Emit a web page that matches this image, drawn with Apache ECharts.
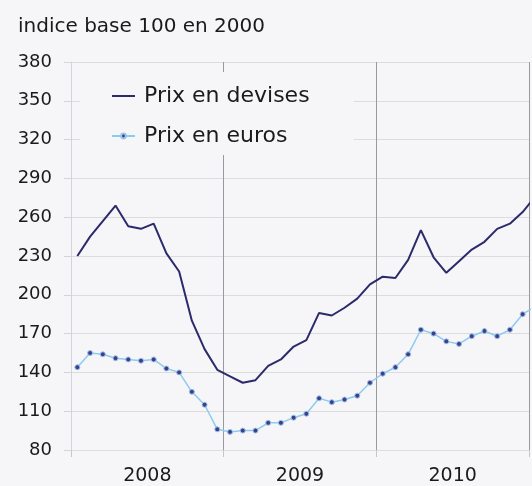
<!DOCTYPE html>
<html>
<head>
<meta charset="utf-8">
<script src="https://cdn.jsdelivr.net/npm/echarts@6/dist/echarts.min.js"></script>
<style>
  html, body { margin: 0; padding: 0; background: #f6f6f8; }
  #chart { width: 532px; height: 486px; }
</style>
</head>
<body>
<div id="chart"></div>
<script>
// monthly values, Jan 2008 -> Jan 2011 (last month is cut by the frame)
const years = ['2008', '2009', '2010']
const prixDevises = [230, 245, 257, 269, 253, 251, 255, 232, 218, 180, 158, 142,
  137, 132, 134, 145, 150, 160, 165, 186, 184, 190, 197, 208,
  214, 213, 227, 250, 229, 217, 226, 235, 241, 251, 255, 264, 276]
const prixEuros = [144, 155, 154, 151, 150, 149, 150, 143, 140, 125, 115, 96,
  94, 95, 95, 101, 101, 105, 108, 120, 117, 119, 122, 132,
  139, 144, 154, 173, 170, 164, 162, 168, 172, 168, 173, 185, 191]
const yTicks = [80, 110, 140, 170, 200, 230, 260, 290, 320, 350, 380]

const font = 'DejaVu Sans'
// month i sits in the middle of its slot
const toPoints = arr => arr.map((v, i) => [i + 0.5, v])

const myChart = echarts.init(document.getElementById('chart'))

const option = {
  backgroundColor: '#f6f6f8',
  animation: false,
  title: {
    text: 'indice base 100 en 2000',
    left: 13,
    top: 12,
    textStyle: { fontFamily: font, fontSize: 20, fontWeight: 'normal', color: '#1a1a1a' }
  },
  legend: {
    orient: 'vertical',
    left: 80,
    top: 72,
    padding: [11, 44, 6, 31],
    backgroundColor: '#f6f6f8',
    itemWidth: 23,
    itemHeight: 6,
    itemGap: 14,
    textStyle: { fontFamily: font, fontSize: 22, lineHeight: 26, color: '#1a1a1a', padding: [0, 0, 0, 4] },
    data: [
      { name: 'Prix en devises', itemStyle: { opacity: 0 } },
      'Prix en euros'
    ]
  },
  grid: {
    left: 71,
    right: 1,
    top: 62,
    bottom: 36
  },
  xAxis: [
    {
      type: 'value',
      min: 0,
      max: 36,
      interval: 6,
      axisLine: { show: false },
      axisTick: { show: false },
      splitLine: { show: false },
      axisLabel: {
        margin: 17,
        fontFamily: font,
        fontSize: 19,
        color: '#1a1a1a',
        formatter: v => (v % 12 === 6 ? years[(v - 6) / 12] : '')
      }
    },
    {
      type: 'value',
      position: 'bottom',
      min: 0,
      max: 36,
      interval: 12,
      axisLine: { show: false },
      axisTick: { show: true, length: 7, lineStyle: { color: '#c8c8cc' } },
      axisLabel: { show: false },
      splitLine: { show: true, lineStyle: { color: '#9a9a9e', width: 1 } }
    }
  ],
  yAxis: {
    type: 'value',
    min: yTicks[0],
    max: yTicks[yTicks.length - 1],
    interval: 30,
    axisLine: { show: true, lineStyle: { color: '#d4d4da' } },
    axisTick: { show: true, length: 7, lineStyle: { color: '#d4d4da' } },
    splitLine: { lineStyle: { color: '#dcdcdf' } },
    axisLabel: { margin: 19, fontFamily: font, fontSize: 18, color: '#1a1a1a' }
  },
  series: [
    {
      name: 'Prix en devises',
      type: 'line',
      xAxisIndex: 0,
      symbol: 'none',
      color: '#2b2a6b',
      lineStyle: { width: 2, color: '#2b2a6b' },
      data: toPoints(prixDevises)
    },
    {
      name: 'Prix en euros',
      type: 'line',
      xAxisIndex: 0,
      symbol: 'circle',
      symbolSize: 5,
      color: '#8ccbf0',
      lineStyle: { width: 1.5, color: '#8ccbf0' },
      itemStyle: { color: '#3b3f8c', borderColor: '#9cc4e8', borderWidth: 1 },
      data: toPoints(prixEuros)
    }
  ]
}

option && myChart.setOption(option)
</script>
</body>
</html>
